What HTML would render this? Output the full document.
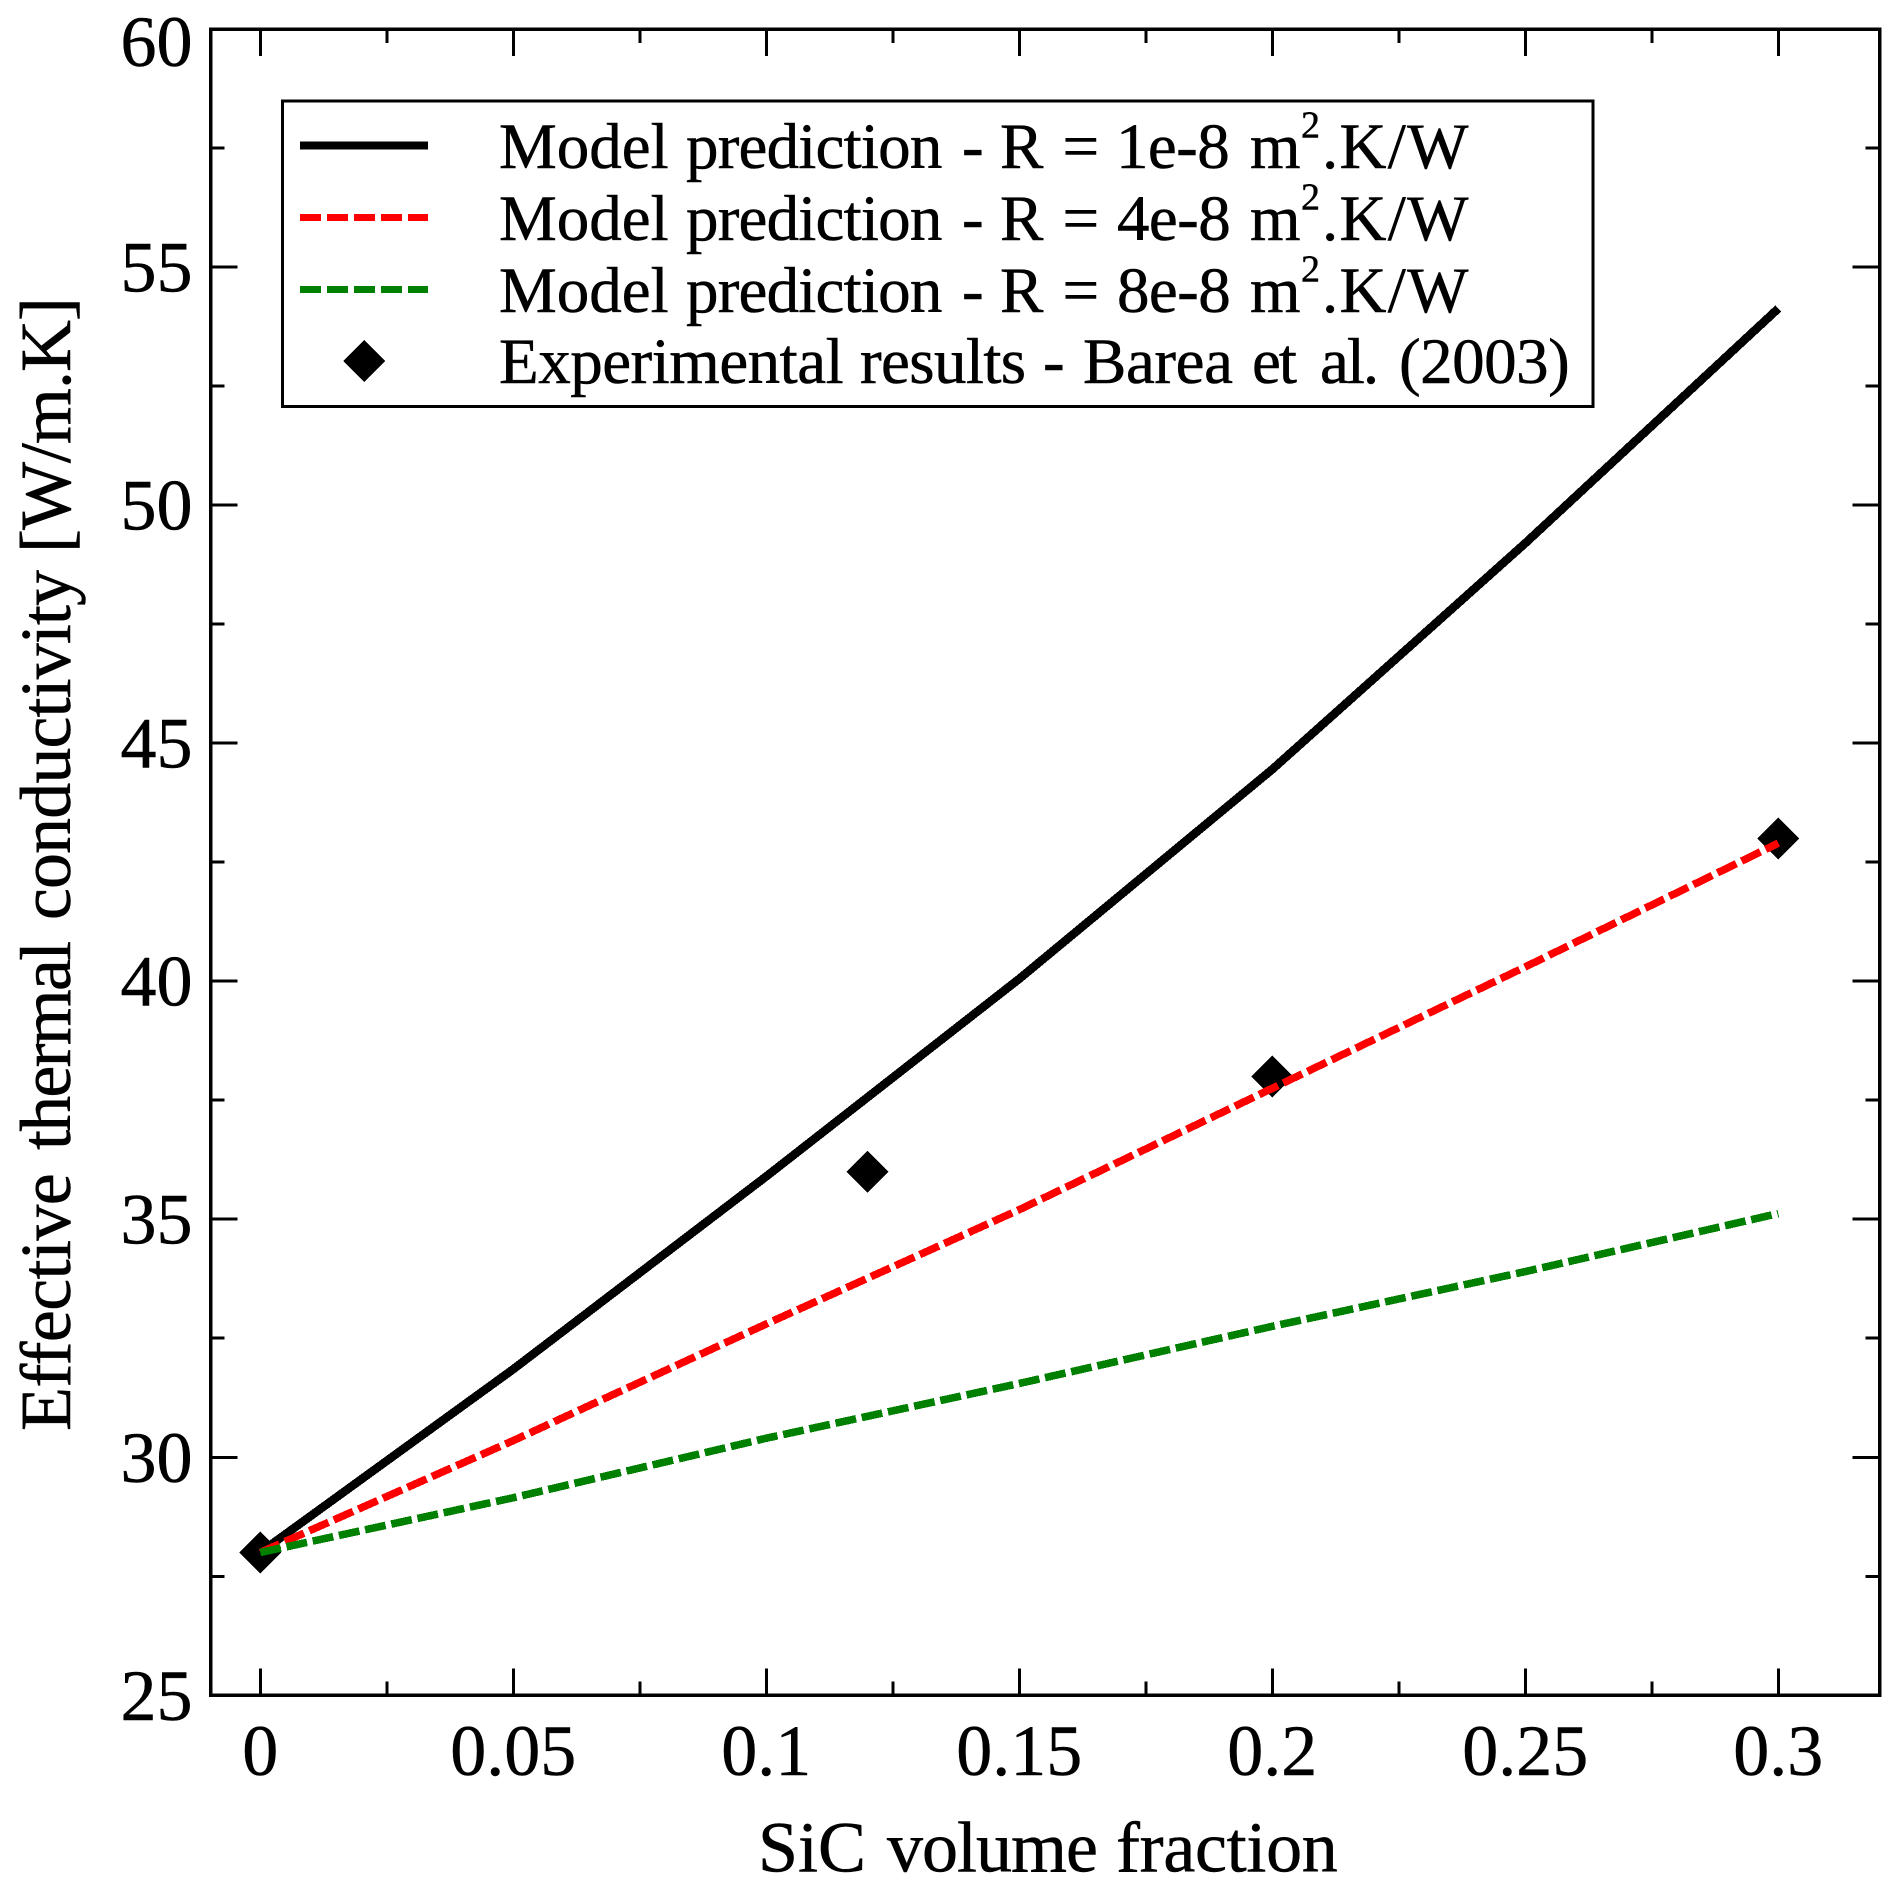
<!DOCTYPE html>
<html lang="en">
<head>
<meta charset="utf-8">
<title>Effective thermal conductivity vs SiC volume fraction</title>
<style>
  html, body { margin: 0; padding: 0; background: #fff; }
  svg { display: block; }
  text { font-family: "Liberation Serif", "Times New Roman", serif; fill: #000; stroke: #000; stroke-width: 0.5px; }
  .tick-label { font-size: 72px; }
  .axis-title { font-size: 72px; }
  .legend-text { font-size: 65px; }
</style>
</head>
<body>
<svg id="chart" xmlns="http://www.w3.org/2000/svg" width="1895" height="1888" viewBox="0 0 1895 1888">
  <rect x="0" y="0" width="1895" height="1888" fill="#fff"/>
  <g id="ticks"></g>
  <g id="tick-labels"></g>
  <g id="markers"></g>
  <g id="lines"></g>
  <rect x="210.6" y="29" width="1669.1" height="1666.3" fill="none" stroke="#000" stroke-width="3.5" shape-rendering="crispEdges"/>

  <text class="axis-title" y="1871.5"><tspan x="758">SiC</tspan><tspan x="887" style="letter-spacing:-1px">volume</tspan><tspan x="1116" style="letter-spacing:-0.3px">fraction</tspan></text>
  <text class="axis-title" transform="translate(70,0) rotate(-90)" y="0"><tspan x="-1431" style="letter-spacing:-0.6px">Effective</tspan><tspan x="-1150" style="letter-spacing:-1.8px">thermal</tspan><tspan x="-920" style="letter-spacing:-0.9px">conductivity</tspan><tspan x="-553" style="letter-spacing:-1px">[W/m.K]</tspan></text>

  <g>
    <rect x="282.7" y="101" width="1310.3" height="305.3" fill="#fff" stroke="#000" stroke-width="3" shape-rendering="crispEdges"/>

    <line x1="300" x2="428" y1="145.7" y2="145.7" stroke="#000" stroke-width="8" shape-rendering="crispEdges"/>
    <text class="legend-text" y="168"><tspan x="499">Model</tspan><tspan x="686" style="letter-spacing:-0.8px">prediction</tspan><tspan x="962">-</tspan><tspan x="1000">R</tspan><tspan x="1062.5">=</tspan><tspan x="1116" style="letter-spacing:-0.6px">1e-8</tspan><tspan x="1250">m</tspan><tspan x="1301" y="137.5" style="font-size:38px">2</tspan><tspan x="1322" y="168" style="letter-spacing:1.3px">.K/W</tspan></text>

    <line x1="300" x2="428" y1="217.3" y2="217.3" stroke="#f00" stroke-width="7" stroke-dasharray="21 6" shape-rendering="crispEdges"/>
    <text class="legend-text" y="240"><tspan x="499">Model</tspan><tspan x="686" style="letter-spacing:-0.8px">prediction</tspan><tspan x="962">-</tspan><tspan x="1000">R</tspan><tspan x="1062.5">=</tspan><tspan x="1117" style="letter-spacing:-0.6px">4e-8</tspan><tspan x="1250">m</tspan><tspan x="1301" y="209.5" style="font-size:38px">2</tspan><tspan x="1322" y="240" style="letter-spacing:1.3px">.K/W</tspan></text>

    <line x1="300" x2="428" y1="289.3" y2="289.3" stroke="#008000" stroke-width="7" stroke-dasharray="21 6" shape-rendering="crispEdges"/>
    <text class="legend-text" y="312"><tspan x="499">Model</tspan><tspan x="686" style="letter-spacing:-0.8px">prediction</tspan><tspan x="962">-</tspan><tspan x="1000">R</tspan><tspan x="1062.5">=</tspan><tspan x="1117" style="letter-spacing:-0.6px">8e-8</tspan><tspan x="1250">m</tspan><tspan x="1301" y="281.5" style="font-size:38px">2</tspan><tspan x="1322" y="312" style="letter-spacing:1.3px">.K/W</tspan></text>

    <polygon points="364,340 385,361 364,382 343,361" fill="#000" shape-rendering="crispEdges"/>
    <text class="legend-text" y="383"><tspan x="499" style="letter-spacing:-0.5px">Experimental</tspan><tspan x="860" style="letter-spacing:-0.6px">results</tspan><tspan x="1043">-</tspan><tspan x="1083" style="letter-spacing:-0.4px">Barea</tspan><tspan x="1252" style="letter-spacing:-2px">et</tspan><tspan x="1320" style="letter-spacing:-2px">al.</tspan><tspan x="1399" style="letter-spacing:-0.5px">(2003)</tspan></text>
  </g>
</svg>

<script>
// Chart data
const volumeFractions = [0, 0.05, 0.1, 0.15, 0.2, 0.25, 0.3];
const modelR1e8 = [28, 31.85, 35.9, 40.05, 44.45, 49.2, 54.13];
const modelR4e8 = [28, 30.35, 32.8, 35.2, 37.75, 40.3, 42.9];
const modelR8e8 = [28, 29.15, 30.4, 31.55, 32.75, 33.9, 35.12];
const experimentalX = [0, 0.12, 0.2, 0.3];
const experimentalY = [28, 36, 38, 43];
const xTickLabels = ["0", "0.05", "0.1", "0.15", "0.2", "0.25", "0.3"];
const yTickLabels = ["25", "30", "35", "40", "45", "50", "55", "60"];
const xMinorTicks = [0.025, 0.075, 0.125, 0.175, 0.225, 0.275];
const yMinorTicks = [27.5, 32.5, 37.5, 42.5, 47.5, 52.5, 57.5];

// Axis functions
function sx(v) { return 260.3 + (v - 0) * (1778.3 - 260.3) / 0.3; }
function sy(v) { return 1695.3 - (v - 25) * (1695.3 - 29) / 35; }

const SVG_NS = 'http://www.w3.org/2000/svg';
function make(tag, parent, attrs) {
  const el = document.createElementNS(SVG_NS, tag);
  for (const k in attrs) el.setAttribute(k, attrs[k]);
  parent.appendChild(el);
  return el;
}

const tickGroup = document.getElementById('ticks');
const labelGroup = document.getElementById('tick-labels');
const markerGroup = document.getElementById('markers');
const lineGroup = document.getElementById('lines');

const frameLeft = 210.6, frameRight = 1879.7, frameTop = 29, frameBottom = 1695.3;
const majorLen = 27, minorLen = 14;

function xTick(v, len) {
  [[frameBottom, frameBottom - len], [frameTop, frameTop + len]].forEach(function (p) {
    const t = make('line', tickGroup, { x1: sx(v), x2: sx(v), y1: p[0], y2: p[1], stroke: '#000', 'stroke-width': 3, 'shape-rendering': 'crispEdges' });
    
    
  });
}
function yTick(v, len) {
  [[frameLeft, frameLeft + len], [frameRight, frameRight - len]].forEach(function (p) {
    const t = make('line', tickGroup, { x1: p[0], x2: p[1], y1: sy(v), y2: sy(v), stroke: '#000', 'stroke-width': 3, 'shape-rendering': 'crispEdges' });
    
    
  });
}

xTickLabels.forEach(function (label) {
  const v = parseFloat(label);
  xTick(v, majorLen);
  const t = make('text', labelGroup, { class: 'tick-label', x: sx(v), y: 1775, 'text-anchor': 'middle' });
  
  
  t.textContent = label;
});
xMinorTicks.forEach(function (v) { xTick(v, minorLen); });

yTickLabels.forEach(function (label) {
  const v = parseFloat(label);
  yTick(v, majorLen);
  const t = make('text', labelGroup, { class: 'tick-label', x: 192.5, y: Math.max(sy(v) + 24.5, 66), 'text-anchor': 'end' });
  
  
  t.textContent = label;
});
yMinorTicks.forEach(function (v) { yTick(v, minorLen); });

// Experimental markers sit beneath the model lines
const markerRadius = 21;
experimentalX.forEach(function (xv, i) {
  const cx = sx(xv), cy = sy(experimentalY[i]);
  const pts = [[cx, cy - markerRadius], [cx + markerRadius, cy], [cx, cy + markerRadius], [cx - markerRadius, cy]];
  const m = make('polygon', markerGroup, { points: pts.map(function (p) { return p.join(','); }).join(' '), fill: '#000', 'shape-rendering': 'crispEdges' });
  
  
});

function drawLine(values, color, width, dash) {
  const pts = values.map(function (v, i) { return sx(volumeFractions[i]) + ',' + sy(v); }).join(' ');
  const attrs = { points: pts, fill: 'none', stroke: color, 'stroke-width': width, 'stroke-linejoin': 'round', 'shape-rendering': 'crispEdges' };
  if (dash) attrs['stroke-dasharray'] = dash;
  return make('polyline', lineGroup, attrs);
}

const lineBlack = drawLine(modelR1e8, '#000', 8.5, null);


const lineRed = drawLine(modelR4e8, '#f00', 7.6, '21 5.8');


const lineGreen = drawLine(modelR8e8, '#008000', 7.6, '21 5.8');


</script>
</body>
</html>
